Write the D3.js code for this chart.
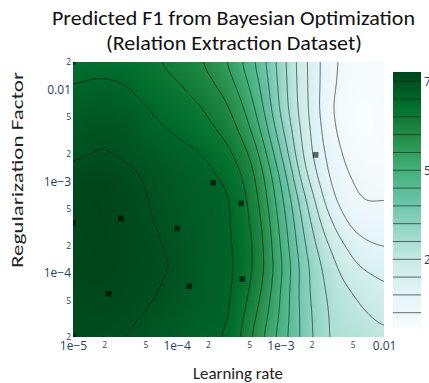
<!DOCTYPE html>
<html><head><meta charset="utf-8">
<script src="https://cdn.jsdelivr.net/npm/d3@7"></script>
<style>html,body{margin:0;padding:0;background:#fff;overflow:hidden}</style>
</head><body>
<svg id="chart" width="429" height="383" xmlns="http://www.w3.org/2000/svg"></svg>
<script>
// ---------- data ----------
const titleLines = ["Predicted F1 from Bayesian Optimization", "(Relation Extraction Dataset)"];
const xTitle = "Learning rate";
const yTitle = "Regularization Factor";

// grid nodes of the predicted surface (log-spaced), rows top (high reg) -> bottom
const lrGrid  = [1e-5, 1.78e-5, 3.16e-5, 5.62e-5, 1e-4, 1.78e-4, 3.16e-4, 5.62e-4, 1e-3, 1.78e-3, 3.16e-3, 5.62e-3, 1e-2];
const regGrid = [2e-2, 1.12e-2, 6.31e-3, 3.55e-3, 2e-3, 1.12e-3, 6.31e-4, 3.55e-4, 2e-4, 1.12e-4, 6.31e-5, 3.55e-5, 2e-5];
const f1Row0  = [67.6, 68.2, 67.7, 66.0, 63.3, 60.1, 54.6, 45.3, 32.9, 20.4, 11.2, 7.2, 7.6];
const f1Row1  = [70.1, 70.8, 70.0, 67.5, 65.5, 62.2, 57.1, 47.5, 33.5, 20.6, 10.9, 6.6, 7.0];
const f1Row2  = [72.0, 72.7, 72.1, 69.8, 67.4, 65.0, 60.2, 50.2, 34.4, 20.9, 10.3, 5.7, 6.6];
const f1Row3  = [73.6, 74.4, 73.8, 71.2, 69.5, 66.8, 62.9, 53.5, 37.0, 21.9, 11.2, 5.8, 6.5];
const f1Row4  = [74.3, 75.2, 74.5, 73.2, 71.5, 69.9, 66.0, 57.3, 40.5, 23.1, 12.6, 7.3, 7.0];
const f1Row5  = [76.5, 77.0, 76.0, 74.3, 72.6, 71.1, 68.5, 60.2, 44.3, 25.9, 14.0, 9.0, 8.3];
const f1Row6  = [77.0, 77.5, 76.5, 74.8, 73.3, 71.8, 70.2, 61.9, 46.9, 29.8, 16.3, 10.4, 9.9];
const f1Row7  = [77.3, 77.6, 76.8, 75.2, 73.7, 72.1, 70.4, 63.3, 48.7, 32.5, 20.0, 12.8, 12.2];
const f1Row8  = [77.2, 77.6, 76.9, 75.7, 74.1, 72.4, 70.6, 64.3, 50.0, 34.6, 23.8, 17.0, 14.7];
const f1Row9  = [77.0, 77.4, 76.9, 75.9, 74.5, 72.3, 70.8, 64.3, 51.0, 36.2, 26.6, 20.5, 18.5];
const f1Row10 = [76.6, 77.0, 76.4, 75.4, 73.8, 72.2, 70.6, 63.0, 50.1, 36.4, 28.3, 24.0, 20.8];
const f1Row11 = [76.2, 76.5, 75.8, 74.6, 73.2, 71.6, 70.2, 60.9, 49.3, 37.0, 29.1, 26.1, 23.7];
const f1Row12 = [76.0, 75.8, 75.0, 73.7, 72.3, 70.9, 69.1, 59.0, 48.2, 37.4, 29.3, 28.0, 25.8];
const f1Grid = [f1Row0, f1Row1, f1Row2, f1Row3, f1Row4, f1Row5, f1Row6, f1Row7, f1Row8, f1Row9, f1Row10, f1Row11, f1Row12];

const contourLevels = [10, 15, 20, 25, 30, 35, 40, 45, 50, 55, 60, 65, 70, 75];

// evaluated hyper-parameter samples
const sampleLr  = [2.25e-4, 4.17e-4, 2.9e-5, 1.01e-4, 1e-5, 4.3e-4, 1.32e-4, 2.21e-5, 2.19e-3, 1e-5, 1e-5];
const sampleReg = [9.64e-4, 5.73e-4, 3.93e-4, 3.05e-4, 3.5e-4, 8.55e-5, 7.16e-5, 5.9e-5, 1.94e-3, 2e-2, 2e-5];

// axis ticks
const xMajorTicks = [1e-5, 1e-4, 1e-3, 1e-2];
const xMajorLabels = ["1e\u22125", "1e\u22124", "1e\u22123", "0.01"];
const xMinorTicks = [2e-5, 5e-5, 2e-4, 5e-4, 2e-3, 5e-3];
const xMinorLabels = ["2", "5", "2", "5", "2", "5"];
const yMajorTicks = [1e-4, 1e-3, 1e-2];
const yMajorLabels = ["1e\u22124", "1e\u22123", "0.01"];
const yMinorTicks = [2e-5, 5e-5, 2e-4, 5e-4, 2e-3, 5e-3, 2e-2];
const yMinorLabels = ["2", "5", "2", "5", "2", "5", "2"];
const cbTicks = [25, 50, 75];
const cbLabels = ["25", "50", "75"];

const colorStops = ["rgb(247,252,253)", "rgb(229,245,249)", "rgb(204,236,230)", "rgb(153,216,201)",
  "rgb(102,194,164)", "rgb(65,174,118)", "rgb(35,139,69)", "rgb(0,109,44)", "rgb(0,68,27)"];

// ---------- layout ----------
const X0 = 73, X1 = 384, Y0 = 62, Y1 = 337;
const svg = d3.select("#chart");
const x = d3.scaleLog().domain([1e-5, 1e-2]).range([X0, X1]);
const y = d3.scaleLog().domain([2e-5, 2e-2]).range([Y1, Y0]);
const zExt = d3.extent(f1Grid.flat());
const color = d3.scaleLinear()
  .domain(colorStops.map((c, k) => zExt[0] + k * (zExt[1] - zExt[0]) / (colorStops.length - 1)))
  .range(colorStops).interpolate(d3.interpolateRgb).clamp(true);

const xi = d3.scaleLog().domain([lrGrid[0], lrGrid[lrGrid.length - 1]]).range([0, lrGrid.length - 1]);
const yi = d3.scaleLog().domain([regGrid[0], regGrid[regGrid.length - 1]]).range([0, regGrid.length - 1]);

function cr(p0, p1, p2, p3, t) {
  return 0.5 * (2 * p1 + (-p0 + p2) * t + (2 * p0 - 5 * p1 + 4 * p2 - p3) * t * t + (-p0 + 3 * p1 - 3 * p2 + p3) * t * t * t);
}
const nC = lrGrid.length, nR = regGrid.length;
function cl(v, n) { return Math.max(0, Math.min(n - 1, v)); }
function surf(fi, fj) {
  fi = Math.max(0, Math.min(nC - 1, fi));
  fj = Math.max(0, Math.min(nR - 1, fj));
  let i = Math.min(Math.floor(fi), nC - 2), j = Math.min(Math.floor(fj), nR - 2);
  const t = fi - i, u = fj - j;
  const rows = [];
  for (let dj = -1; dj <= 2; dj++) {
    const r = f1Grid[cl(j + dj, nR)];
    rows.push(cr(r[cl(i - 1, nC)], r[i], r[i + 1], r[cl(i + 2, nC)], t));
  }
  return cr(rows[0], rows[1], rows[2], rows[3], u);
}

// fine sampling (margin beyond the plot so that smoothing has no edge effects)
const W = X1 - X0, H = Y1 - Y0, M = 20;
const nx = W + 2 * M, ny = H + 2 * M;
let fine = new Float64Array(nx * ny);
for (let j = 0; j < ny; j++) {
  const fj = yi(y.invert(Y0 - M + j + 0.5));
  for (let i = 0; i < nx; i++) {
    const fi = xi(x.invert(X0 - M + i + 0.5));
    fine[j * nx + i] = surf(fi, fj);
  }
}
// render smoothing (3-pass box blur ~ gaussian)
function blurPass(src, r, horiz) {
  const dst = new Float64Array(src.length);
  const n = horiz ? nx : ny, m = horiz ? ny : nx;
  for (let a = 0; a < m; a++) {
    const idx = k => horiz ? a * nx + k : k * nx + a;
    let sum = 0;
    for (let k = -r; k <= r; k++) sum += src[idx(Math.min(n - 1, Math.max(0, k)))];
    for (let k = 0; k < n; k++) {
      dst[idx(k)] = sum / (2 * r + 1);
      sum += src[idx(Math.min(n - 1, k + r + 1))] - src[idx(Math.max(0, k - r))];
    }
  }
  return dst;
}
for (let p = 0; p < 3; p++) { fine = blurPass(fine, 5, true); fine = blurPass(fine, 5, false); }

// heatmap fill via canvas -> svg image
const cv = document.createElement("canvas");
cv.width = W; cv.height = H;
const ctx = cv.getContext("2d");
const img = ctx.createImageData(W, H);
for (let j = 0; j < H; j++) {
  for (let i = 0; i < W; i++) {
    const c = d3.rgb(color(fine[(j + M) * nx + (i + M)]));
    const k = (j * W + i) * 4;
    img.data[k] = c.r; img.data[k + 1] = c.g; img.data[k + 2] = c.b; img.data[k + 3] = 255;
  }
}
ctx.putImageData(img, 0, 0);
svg.append("image").attr("x", X0).attr("y", Y0).attr("width", W).attr("height", H)
  .attr("preserveAspectRatio", "none").attr("href", cv.toDataURL());

const defs = svg.append("defs");
defs.append("clipPath").attr("id", "plotclip").append("rect")
  .attr("x", X0).attr("y", Y0).attr("width", W).attr("height", H);

// contour lines
const contours = d3.contours().size([nx, ny]).thresholds(contourLevels)(Array.from(fine));
const path = d3.geoPath(d3.geoIdentity().translate([X0 - M, Y0 - M]));
svg.append("g").attr("clip-path", "url(#plotclip)")
  .selectAll("path").data(contours).join("path")
  .attr("d", path).attr("fill", "none")
  .attr("stroke", "#111").attr("stroke-opacity", 0.8).attr("stroke-width", 0.8);

// sample markers
const sym = d3.symbol(d3.symbolSquare).size(32);
svg.append("g").attr("clip-path", "url(#plotclip)")
  .selectAll("path").data(sampleLr.map((v, k) => [v, sampleReg[k]])).join("path")
  .attr("transform", d => `translate(${x(d[0])},${y(d[1])})`)
  .attr("d", sym).attr("fill", "#000").attr("fill-opacity", 0.58);

// axes
const tickFont = "'Open Sans', 'DejaVu Sans', sans-serif";
const tickColor = "#2a3f5f";
const xAll = xMajorTicks.concat(xMinorTicks);
const xLab = new Map(xAll.map((v, k) => [v, k < xMajorTicks.length ? xMajorLabels[k] : xMinorLabels[k - xMajorTicks.length]]));
const gx = svg.append("g").attr("transform", `translate(0,${Y1})`)
  .call(d3.axisBottom(x).tickValues(xAll).tickFormat(v => xLab.get(v)).tickSize(0).tickPadding(4.5));
gx.select(".domain").remove();
gx.selectAll("text").attr("fill", tickColor).style("font-family", tickFont)
  .style("font-size", d => xMajorTicks.includes(d) ? "12px" : "8.5px");

const yAll = yMajorTicks.concat(yMinorTicks);
const yLab = new Map(yAll.map((v, k) => [v, k < yMajorTicks.length ? yMajorLabels[k] : yMinorLabels[k - yMajorTicks.length]]));
const gy = svg.append("g").attr("transform", `translate(${X0},0)`)
  .call(d3.axisLeft(y).tickValues(yAll).tickFormat(v => yLab.get(v)).tickSize(0).tickPadding(2));
gy.select(".domain").remove();
gy.selectAll("text").attr("fill", tickColor).style("font-family", tickFont)
  .style("font-size", d => yMajorTicks.includes(d) ? "12px" : "8.5px");

// colorbar
const CBX = 393, CBW = 28, CBT = 72, CBB = 328;
const cb = d3.scaleLinear().domain(zExt).range([CBB, CBT]);
const grad = defs.append("linearGradient").attr("id", "cbgrad")
  .attr("x1", 0).attr("y1", 1).attr("x2", 0).attr("y2", 0);
grad.selectAll("stop").data(colorStops).join("stop")
  .attr("offset", (d, k) => k / (colorStops.length - 1)).attr("stop-color", d => d);
svg.append("rect").attr("x", CBX).attr("y", CBT).attr("width", CBW).attr("height", CBB - CBT)
  .attr("fill", "url(#cbgrad)");
svg.append("g").selectAll("line").data(contourLevels).join("line")
  .attr("x1", CBX).attr("x2", CBX + CBW).attr("y1", d => cb(d)).attr("y2", d => cb(d))
  .attr("stroke", "#222").attr("stroke-opacity", 0.75).attr("stroke-width", 0.9);
const gcb = svg.append("g").attr("transform", `translate(${CBX + CBW},0)`)
  .call(d3.axisRight(cb).tickValues(cbTicks).tickFormat((d, k) => cbLabels[k]).tickSize(0).tickPadding(3));
gcb.select(".domain").remove();
gcb.selectAll("text").attr("fill", tickColor).style("font-family", tickFont).style("font-size", "12px");

// titles
const titleFont = "Carlito, Lato, 'Open Sans', sans-serif";
svg.append("text").attr("x", 233.5).attr("y", 25).attr("text-anchor", "middle")
  .attr("textLength", 363).attr("lengthAdjust", "spacingAndGlyphs")
  .style("font-family", titleFont).style("font-size", "21px").style("font-weight", 400).attr("fill", "#111").text(titleLines[0]);
svg.append("text").attr("x", 234).attr("y", 50).attr("text-anchor", "middle")
  .attr("textLength", 256).attr("lengthAdjust", "spacingAndGlyphs")
  .style("font-family", titleFont).style("font-size", "21px").style("font-weight", 400).attr("fill", "#111").text(titleLines[1]);
svg.append("text").attr("x", 238).attr("y", 379).attr("text-anchor", "middle")
  .attr("textLength", 90).attr("lengthAdjust", "spacingAndGlyphs")
  .style("font-family", titleFont).style("font-size", "16px").style("font-weight", 400).attr("fill", "#222").text(xTitle);
svg.append("text").attr("transform", "translate(23,170) rotate(-90)").attr("text-anchor", "middle")
  .attr("textLength", 196).attr("lengthAdjust", "spacingAndGlyphs")
  .style("font-family", titleFont).style("font-size", "16px").style("font-weight", 400).attr("fill", "#222").text(yTitle);
</script>
</body></html>
